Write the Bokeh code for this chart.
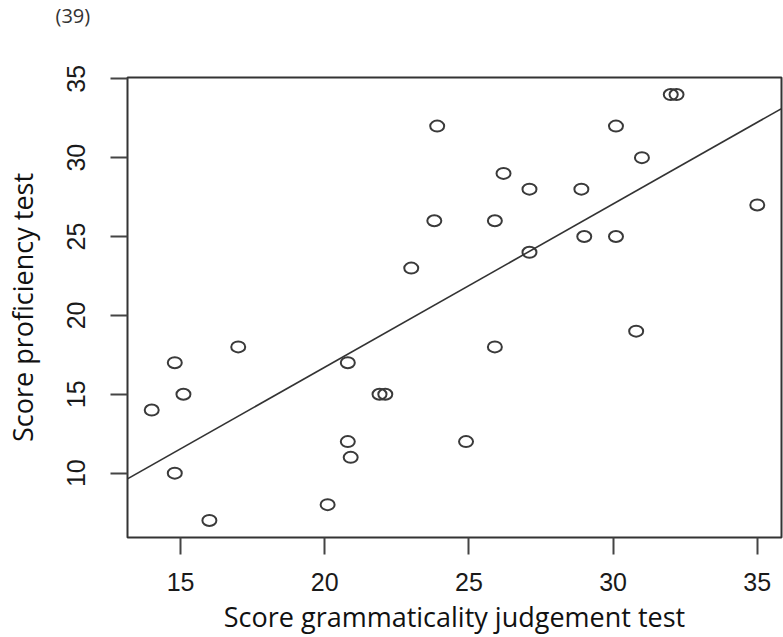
import numpy as np
from bokeh.plotting import figure
from bokeh.models import Range1d, FixedTicker, Slope, ColumnDataSource, Title
from bokeh.embed import file_html
from bokeh.resources import INLINE

# Data
grammaticality = [14, 14.8, 14.8, 15.1, 16, 17, 20.1, 20.8, 20.8, 20.9, 21.9, 22.1,
                  23, 23.8, 23.9, 24.9, 25.9, 25.9, 26.2, 27.1, 27.1, 28.9, 29,
                  30.1, 30.1, 30.8, 31, 32, 32.2, 35]
proficiency = [14, 17, 10, 15, 7, 18, 8, 17, 12, 11, 15, 15,
               23, 26, 32, 12, 26, 18, 29, 28, 24, 28, 25,
               32, 25, 19, 30, 34, 34, 27]
x_ticks = [15, 20, 25, 30, 35]
y_ticks = [10, 15, 20, 25, 30, 35]
title_text = "(39)"
x_label = "Score grammaticality judgement test"
y_label = "Score proficiency test"

x = np.array(grammaticality, dtype=float)
y = np.array(proficiency, dtype=float)

# R-style 4% range extension
def ext(a):
    lo, hi = a.min(), a.max()
    d = (hi - lo) * 0.04
    return lo - d, hi + d

x0, x1 = ext(x)
y0, y1 = ext(y)

slope, intercept = np.polyfit(x, y, 1)

W, H = 783, 637
ML, MR, MT, MB = 127, 2, 77, 100

p = figure(width=W, height=H, output_backend="svg", toolbar_location=None,
           x_range=Range1d(x0, x1), y_range=Range1d(y0, y1),
           min_border_left=ML, min_border_right=MR, min_border_top=MT,
           min_border_bottom=MB)

# spacer panel next to the frame, then the "(39)" caption at the very top
p.add_layout(Title(text=" ", text_font="Open Sans", text_font_size="10px",
                   standoff=30), "above")
p.add_layout(Title(text=title_text, text_font="Open Sans", text_font_size="20px",
                   text_font_style="normal", text_color="#333333",
                   align="left", vertical_align="top", offset=-72, standoff=2),
             "above")

p.background_fill_color = "white"
p.border_fill_color = "white"
p.outline_line_color = "#333333"
p.outline_line_width = 2
p.xgrid.visible = False
p.ygrid.visible = False

for ax, ticks in ((p.xaxis, x_ticks), (p.yaxis, y_ticks)):
    ax.ticker = FixedTicker(ticks=ticks)
    ax.minor_tick_line_color = None
    ax.axis_line_color = None
    ax.major_tick_line_color = "#444444"
    ax.major_tick_line_width = 2
    ax.major_tick_out = 17
    ax.major_tick_in = 0
    ax.major_label_text_font = "Liberation Sans"
    ax.major_label_text_font_size = "25px"
    ax.major_label_text_color = "#1a1a1a"
    ax.axis_label_text_font = "Open Sans"
    ax.axis_label_text_font_size = "27px"
    ax.axis_label_text_font_style = "normal"
    ax.axis_label_text_color = "#111111"

p.xaxis.axis_label = x_label
p.yaxis.axis_label = y_label
p.xaxis.major_label_standoff = 18
p.xaxis.axis_label_standoff = 4
p.yaxis.major_label_standoff = 25
p.yaxis.axis_label_standoff = 24
p.yaxis.major_label_orientation = "vertical"

src = ColumnDataSource(data=dict(x=x, y=y))
p.ellipse(x="x", y="y", width=14, height=11, width_units="screen",
          height_units="screen", source=src, fill_color=None,
          line_color="#3a3a3a", line_width=2)

p.add_layout(Slope(gradient=slope, y_intercept=intercept,
                   line_color="#333333", line_width=1.6))

open("out.html", "w").write(file_html(p, INLINE))
